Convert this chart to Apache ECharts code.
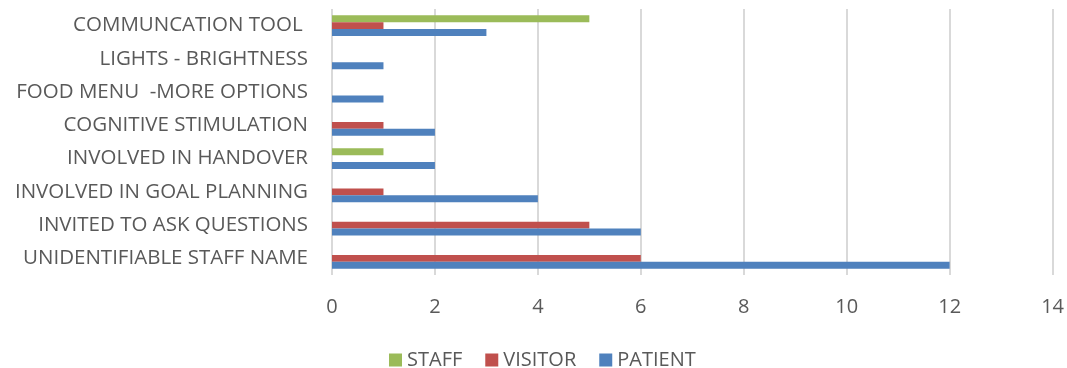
<!DOCTYPE html>
<html>
<head>
<meta charset="utf-8">
<script src="https://cdn.jsdelivr.net/npm/echarts@6/dist/echarts.min.js"></script>
<style>
	html, body { margin: 0; padding: 0; background: #fff; }
	#main { width: 1067px; height: 368px; }
</style>
</head>
<body>
<div id="main"></div>
<script>
	// categories, bottom to top
	var categories = [
		'UNIDENTIFIABLE STAFF NAME',
		'INVITED TO ASK QUESTIONS',
		'INVOLVED IN GOAL PLANNING',
		'INVOLVED IN HANDOVER',
		'COGNITIVE STIMULATION',
		'FOOD MENU  -MORE OPTIONS',
		'LIGHTS - BRIGHTNESS',
		'COMMUNCATION TOOL '
	];
	var patient = [12, 6, 4, 2, 2, 1, 1, 3];
	var visitor = [6, 5, 1, 0, 1, 0, 0, 1];
	var staff   = [0, 0, 0, 1, 0, 0, 0, 5];
	var xTicks = [0, 2, 4, 6, 8, 10, 12, 14];

	var font = 'Open Sans';
	var myChart = echarts.init(document.getElementById('main'));

	var option = {
		animation: false,
		textStyle: { fontFamily: font },
		legend: {
			data: ['STAFF', 'VISITOR', 'PATIENT'],
			left: 384,
			top: 345,
			itemWidth: 13,
			itemHeight: 13,
			itemGap: 23,
			icon: 'rect',
			textStyle: { fontFamily: font, fontSize: 20, color: '#595959' }
		},
		grid: { left: 332, right: 13, top: 9, bottom: 93 },
		xAxis: {
			type: 'value',
			min: xTicks[0],
			max: xTicks[xTicks.length - 1],
			interval: 2,
			axisLine: { show: false },
			axisTick: { show: false },
			axisLabel: { fontFamily: font, fontSize: 20, color: '#595959', margin: 22 },
			splitLine: { lineStyle: { color: '#d9d9d9', width: 2 } }
		},
		yAxis: {
			type: 'category',
			data: categories,
			axisLine: { show: false },
			axisTick: { show: false },
			axisLabel: { fontFamily: font, fontSize: 20.5, color: '#595959', margin: 24 }
		},
		series: [
			{ name: 'STAFF', type: 'bar', data: staff, itemStyle: { color: '#9BBB59' }, barGap: '0%', barCategoryGap: '37%' },
			{ name: 'VISITOR', type: 'bar', data: visitor, itemStyle: { color: '#C0504D' } },
			{ name: 'PATIENT', type: 'bar', data: patient, itemStyle: { color: '#4F81BD' } }
		]
	};
	myChart.setOption(option);
</script>
</body>
</html>
